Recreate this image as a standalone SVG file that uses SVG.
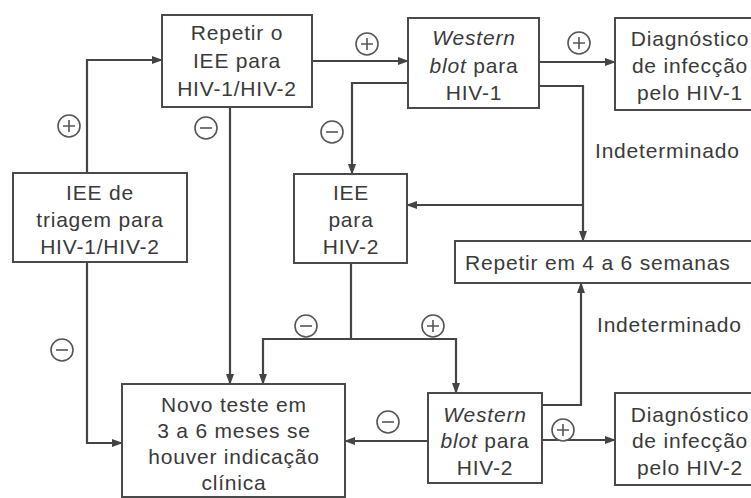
<svg xmlns="http://www.w3.org/2000/svg" width="751" height="498" viewBox="0 0 751 498">
<style>
.box{fill:#fff;stroke:#4a4a4a;stroke-width:2}
.t{font-family:"Liberation Sans",Arial,sans-serif;font-size:21px;letter-spacing:0.8px;fill:#3a3a3a;text-anchor:middle}
.tl{font-family:"Liberation Sans",Arial,sans-serif;font-size:21px;letter-spacing:0.8px;fill:#3a3a3a}
.c{fill:none;stroke:#444;stroke-width:2.2}
.a{marker-end:url(#arr)}
.sg{fill:#fff;stroke:#555;stroke-width:1.6}
.sl{stroke:#555;stroke-width:1.6;fill:none}
</style>
<defs>
<marker id="arr" markerUnits="userSpaceOnUse" markerWidth="11" markerHeight="8" refX="10" refY="4" orient="auto">
<path d="M0,0 L11,4 L0,8 z" fill="#444"/>
</marker>
<symbol id="plus" overflow="visible"><circle class="sg" cx="0" cy="0" r="11"/><path class="sl" d="M-6,0 H6 M0,-6 V6"/></symbol>
<symbol id="minus" overflow="visible"><circle class="sg" cx="0" cy="0" r="11"/><path class="sl" d="M-6,0 H6"/></symbol>
</defs>
<rect width="751" height="498" fill="#fff"/>
<g id="connectors">
<path class="c a" d="M87,173 V60 H162"/>
<path class="c a" d="M312,61 H408"/>
<path class="c a" d="M539,62 H615"/>
<path class="c a" d="M408,83 H352 V174"/>
<path class="c a" d="M539,86 H583 V241"/>
<path class="c a" d="M583,205 H407"/>
<path class="c a" d="M230,107 V384"/>
<path class="c a" d="M87,262 V443 H122"/>
<path class="c" d="M351,263 V339"/>
<path class="c a" d="M351,339 H263 V384"/>
<path class="c a" d="M351,339 H456 V393"/>
<path class="c a" d="M428,441 H345"/>
<path class="c a" d="M542,440 H615"/>
<path class="c a" d="M542,405 H581 V283"/>
</g>
<g id="signs">
<use href="#plus" x="69" y="126"/>
<use href="#minus" x="206" y="128"/>
<use href="#minus" x="332" y="132"/>
<use href="#plus" x="367" y="44"/>
<use href="#plus" x="579" y="43"/>
<use href="#minus" x="62" y="350"/>
<use href="#minus" x="306" y="326"/>
<use href="#plus" x="433" y="326"/>
<use href="#minus" x="388" y="422"/>
<use href="#plus" x="563" y="430"/>
</g>
<g id="labels">
<text class="tl" x="595" y="158">Indeterminado</text>
<text class="tl" x="597" y="332">Indeterminado</text>
</g>
<g id="n-repetir-iee">
<rect class="box" x="162" y="15" width="150" height="92"/>
<text class="t" x="237" y="40">Repetir o</text>
<text class="t" x="237" y="68">IEE para</text>
<text class="t" x="237" y="96">HIV-1/HIV-2</text>
</g>
<g id="n-wb1">
<rect class="box" x="408" y="18" width="131" height="90"/>
<text class="t" x="474" y="45"><tspan font-style="italic">Western</tspan></text>
<text class="t" x="474" y="73"><tspan font-style="italic">blot</tspan> para</text>
<text class="t" x="474" y="100">HIV-1</text>
</g>
<g id="n-diag1">
<rect class="box" x="615" y="18" width="150" height="92"/>
<text class="t" x="690" y="46">Diagnóstico</text>
<text class="t" x="690" y="73">de infecção</text>
<text class="t" x="690" y="100">pelo HIV-1</text>
</g>
<g id="n-triagem">
<rect class="box" x="13" y="173" width="174" height="89"/>
<text class="t" x="100" y="200">IEE de</text>
<text class="t" x="100" y="227">triagem para</text>
<text class="t" x="100" y="254">HIV-1/HIV-2</text>
</g>
<g id="n-iee-hiv2">
<rect class="box" x="294" y="174" width="113" height="89"/>
<text class="t" x="351" y="200">IEE</text>
<text class="t" x="351" y="227">para</text>
<text class="t" x="351" y="254">HIV-2</text>
</g>
<g id="n-repetir-semanas">
<rect class="box" x="455" y="241" width="310" height="42"/>
<text class="tl" x="465" y="270">Repetir em 4 a 6 semanas</text>
</g>
<g id="n-novo-teste">
<rect class="box" x="122" y="384" width="223" height="113"/>
<text class="t" x="234" y="412">Novo teste em</text>
<text class="t" x="234" y="438">3 a 6 meses se</text>
<text class="t" x="234" y="464">houver indicação</text>
<text class="t" x="234" y="490">clínica</text>
</g>
<g id="n-wb2">
<rect class="box" x="428" y="393" width="114" height="90"/>
<text class="t" x="485" y="422"><tspan font-style="italic">Western</tspan></text>
<text class="t" x="485" y="448"><tspan font-style="italic">blot</tspan> para</text>
<text class="t" x="485" y="475">HIV-2</text>
</g>
<g id="n-diag2">
<rect class="box" x="615" y="393" width="150" height="92"/>
<text class="t" x="690" y="422">Diagnóstico</text>
<text class="t" x="690" y="448">de infecção</text>
<text class="t" x="690" y="475">pelo HIV-2</text>
</g>
</svg>
